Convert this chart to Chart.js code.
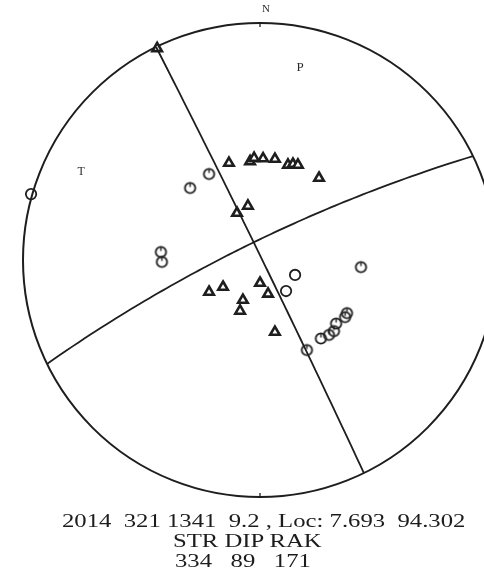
<!DOCTYPE html>
<html>
<head>
<meta charset="utf-8">
<script src="https://cdn.jsdelivr.net/npm/chart.js@4.4.1/dist/chart.umd.min.js"></script>
<style>
  html, body { margin: 0; padding: 0; background: #fff; overflow: hidden; }
  #wrap { position: relative; width: 520px; height: 575px; }
  #c { position: absolute; left: 0; top: 0; }
  .cap {
    position: absolute;
    font-family: "Liberation Serif", "Times New Roman", serif;
    font-size: 19px;
    line-height: 19px;
    color: #1c1c1c;
    white-space: pre;
    transform-origin: 0 0;
    transform: scaleX(1.3);
  }
</style>
</head>
<body>
<div id="wrap">
  <canvas id="c" width="520" height="575"></canvas>
  <div class="cap" id="cap0" style="left:62px;top:511px;"></div>
  <div class="cap" id="cap1" style="left:173px;top:531px;"></div>
  <div class="cap" id="cap2" style="left:175px;top:551px;"></div>
</div>
<script>
// Nodal planes (strike / dip, degrees)
const planeStrikes = [334, 244];
const planeDips = [89, 81];

// Compression polarities (triangles), projected on the unit focal sphere (x = east, y = north)
const compX = [-0.434, -0.131, -0.042, -0.025, 0.013, 0.063, 0.118, 0.139, 0.160, 0.249,
               -0.051, -0.097, -0.215, -0.156, 0.000, 0.034, -0.072, -0.084, 0.063];
const compY = [0.893, 0.409, 0.416, 0.430, 0.428, 0.426, 0.401, 0.405, 0.401, 0.346,
               0.228, 0.198, -0.135, -0.114, -0.097, -0.143, -0.169, -0.215, -0.304];

// Dilatation polarities (circles)
const dilX = [-0.295, -0.215, -0.418, -0.414, 0.426, 0.198, 0.257, 0.291, 0.312, 0.321, 0.359, 0.367];
const dilY = [0.304, 0.363, 0.034, -0.008, -0.030, -0.380, -0.331, -0.316, -0.300, -0.268, -0.241, -0.224];
const dilPlainX = [-0.966, 0.148, 0.110];
const dilPlainY = [0.278, -0.063, -0.131];

// Axis labels: north mark, P and T axes
const axisLabels = ["N", "P", "T"];
const labelX = [0.025, 0.169, -0.755];
const labelY = [1.059, 0.810, 0.371];
const labelSizes = [11, 13, 12];

// Event header and mechanism
const captionLines = [
  "2014  321 1341  9.2 , Loc: 7.693  94.302",
  "STR DIP RAK",
  "334   89   171"
];

captionLines.forEach((t, i) => { document.getElementById("cap" + i).textContent = t; });

const INK = "#1e1e1e";
const D2R = Math.PI / 180;

function toPoints(xs, ys) { return xs.map((x, i) => ({ x, y: ys[i] })); }

// Great circle of a plane, lower hemisphere, stereographic (Wulff) projection
function greatCircle(strike, dip) {
  const s = strike * D2R, d = dip * D2R;
  const pts = [];
  for (let t = 0; t <= 180; t += 2) {
    const tr = t * D2R;
    const n = Math.cos(tr) * Math.cos(s) + Math.sin(tr) * Math.cos(d) * Math.cos(s + Math.PI / 2);
    const e = Math.cos(tr) * Math.sin(s) + Math.sin(tr) * Math.cos(d) * Math.sin(s + Math.PI / 2);
    const down = Math.sin(tr) * Math.sin(d);
    const plunge = Math.asin(Math.min(1, Math.max(-1, down)));
    const trend = Math.atan2(e, n);
    const r = Math.tan((Math.PI / 2 - plunge) / 2);
    pts.push({ x: r * Math.sin(trend), y: r * Math.cos(trend) });
  }
  return pts;
}

// Open circle with a short tick, used for most dilatations
function tickedCircle() {
  const c = document.createElement("canvas");
  c.width = 15; c.height = 15;
  const g = c.getContext("2d");
  g.strokeStyle = INK; g.lineWidth = 1.8;
  g.beginPath(); g.arc(7.5, 7.5, 5.2, 0, Math.PI * 2); g.stroke();
  g.lineWidth = 1.4;
  g.beginPath(); g.moveTo(7.5, 3); g.lineTo(7.5, 6.5); g.stroke();
  return c;
}

// Focal sphere outline, N/S ticks and axis labels
const spherePlugin = {
  id: "sphere",
  beforeDatasetsDraw(chart) {
    const { ctx, scales: { x, y } } = chart;
    const cx = x.getPixelForValue(0), cy = y.getPixelForValue(0);
    const R = x.getPixelForValue(1) - cx;
    ctx.save();
    ctx.strokeStyle = INK;
    ctx.lineWidth = 2;
    ctx.beginPath(); ctx.arc(cx, cy, R, 0, Math.PI * 2); ctx.stroke();
    ctx.lineWidth = 1.3;
    ctx.beginPath();
    ctx.moveTo(cx, cy - R); ctx.lineTo(cx, cy - R + 4);
    ctx.moveTo(cx, cy + R); ctx.lineTo(cx, cy + R - 4);
    ctx.stroke();
    ctx.restore();
  },
  afterDraw(chart) {
    const { ctx, scales: { x, y } } = chart;
    ctx.save();
    ctx.fillStyle = "#2a2a2a";
    ctx.textAlign = "center";
    ctx.textBaseline = "middle";
    axisLabels.forEach((t, i) => {
      ctx.font = labelSizes[i] + 'px "Liberation Serif", serif';
      ctx.fillText(t, x.getPixelForValue(labelX[i]), y.getPixelForValue(labelY[i]));
    });
    ctx.restore();
  }
};

const lineStyle = {
  showLine: true, pointRadius: 0, borderColor: INK, borderWidth: 1.8, fill: false, tension: 0
};

new Chart(document.getElementById("c"), {
  type: "scatter",
  data: {
    datasets: [
      { label: "Plane 1", data: greatCircle(planeStrikes[0], planeDips[0]), ...lineStyle },
      { label: "Plane 2", data: greatCircle(planeStrikes[1], planeDips[1]), ...lineStyle },
      {
        label: "Compression", data: toPoints(compX, compY),
        pointStyle: "triangle", pointRadius: 5.5, borderWidth: 2.6,
        borderColor: INK, backgroundColor: "#fff"
      },
      {
        label: "Dilatation", data: toPoints(dilX, dilY),
        pointStyle: tickedCircle(), pointRadius: 7
      },
      {
        label: "Dilatation ", data: toPoints(dilPlainX, dilPlainY),
        pointStyle: "circle", pointRadius: 5.2, borderWidth: 1.8,
        borderColor: INK, backgroundColor: "rgba(255,255,255,0)"
      }
    ]
  },
  options: {
    responsive: false,
    animation: false,
    layout: { padding: { left: 23, right: 23, top: 23, bottom: 78 } },
    scales: {
      x: { type: "linear", min: -1, max: 1, display: false },
      y: { type: "linear", min: -1, max: 1, display: false }
    },
    plugins: { legend: { display: false }, tooltip: { enabled: false } },
    elements: { point: { hoverRadius: 5 } }
  },
  plugins: [spherePlugin]
});
</script>
</body>
</html>
